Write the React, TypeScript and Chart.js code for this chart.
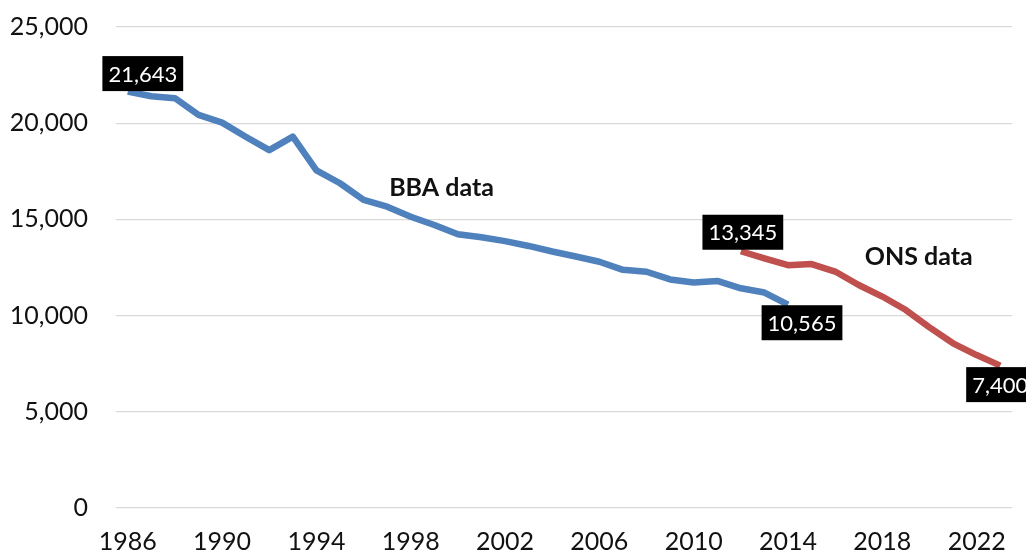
import React, { useEffect, useRef } from "react";
import { Chart, registerables } from "chart.js";

Chart.register(...registerables);

// ---- data ----
const years: string[] = [
  "1986", "1987", "1988", "1989", "1990", "1991", "1992", "1993", "1994", "1995",
  "1996", "1997", "1998", "1999", "2000", "2001", "2002", "2003", "2004", "2005",
  "2006", "2007", "2008", "2009", "2010", "2011", "2012", "2013", "2014", "2015",
  "2016", "2017", "2018", "2019", "2020", "2021", "2022", "2023",
];

const bbaValues: (number | null)[] = [
  21643, 21400, 21300, 20430, 20030, 19300, 18600, 19300, 17550, 16880,
  16010, 15660, 15140, 14710, 14230, 14070, 13870, 13620, 13330, 13070,
  12800, 12380, 12280, 11880, 11720, 11800, 11420, 11200, 10565, null,
  null, null, null, null, null, null, null, null,
];

const onsValues: (number | null)[] = [
  null, null, null, null, null, null, null, null, null, null,
  null, null, null, null, null, null, null, null, null, null,
  null, null, null, null, null, null, 13345, 12980, 12620, 12680,
  12290, 11590, 10990, 10290, 9390, 8560, 7950, 7400,
];

const yTicks: number[] = [0, 5000, 10000, 15000, 20000, 25000];
const xTickYears: string[] = ["1986", "1990", "1994", "1998", "2002", "2006", "2010", "2014", "2018", "2022"];

// value labels: dataset index, point index
const valueLabels = [
  { ds: 0, idx: 0 },
  { ds: 0, idx: 28 },
  { ds: 1, idx: 26 },
  { ds: 1, idx: 37 },
];
// style offsets for the label boxes (pixels)
const valueLabelOffsets = [
  { dx: 15, dy: -18 },
  { dx: 14, dy: 18 },
  { dx: 2, dy: -19 },
  { dx: 0, dy: 19 },
];

const seriesNotes = [
  { text: "BBA data", year: "1997", value: 16220 },
  { text: "ONS data", year: "2017", value: 12630 },
];
const seriesNoteOffsets = [{ dx: 2 }, { dx: 6 }];

const FONT = "Lato, 'Open Sans', sans-serif";

const fmt = (v: number) => v.toLocaleString("en-US");

const labelPlugin = {
  id: "valueLabels",
  afterDatasetsDraw(chart: any) {
    const ctx = chart.ctx;
    ctx.save();
    // series notes
    ctx.font = `bold 25px ${FONT}`;
    ctx.fillStyle = "#111111";
    ctx.textAlign = "left";
    ctx.textBaseline = "alphabetic";
    const xs = chart.scales.x;
    const ys = chart.scales.y;
    seriesNotes.forEach((n, i) => {
      const px = xs.getPixelForValue(years.indexOf(n.year)) + seriesNoteOffsets[i].dx;
      const py = ys.getPixelForValue(n.value);
      ctx.fillText(n.text, px, py);
    });
    // value boxes
    ctx.font = `22px ${FONT}`;
    ctx.textAlign = "center";
    ctx.textBaseline = "middle";
    valueLabels.forEach((l, i) => {
      const meta = chart.getDatasetMeta(l.ds);
      const pt = meta.data[l.idx];
      if (!pt) return;
      const v = chart.data.datasets[l.ds].data[l.idx] as number;
      const text = fmt(v);
      const w = ctx.measureText(text).width + 12;
      const h = 35;
      const cx = pt.x + valueLabelOffsets[i].dx;
      const cy = pt.y + valueLabelOffsets[i].dy;
      ctx.fillStyle = "#000000";
      ctx.fillRect(cx - w / 2, cy - h / 2, w, h);
      ctx.fillStyle = "#ffffff";
      ctx.fillText(text, cx, cy + 1);
    });
    ctx.restore();
  },
};

export default function App() {
  const ref = useRef<HTMLCanvasElement | null>(null);

  useEffect(() => {
    let chart: Chart | null = null;
    let cancelled = false;
    const make = () => {
      if (cancelled || !ref.current) return;
      chart = new Chart(ref.current, {
        type: "line",
        data: {
          labels: years,
          datasets: [
            {
              label: "BBA",
              data: bbaValues,
              borderColor: "#4F81BD",
              backgroundColor: "#4F81BD",
              borderWidth: 6.5,
              pointRadius: 0,
              tension: 0,
              borderJoinStyle: "round",
              spanGaps: false,
            },
            {
              label: "ONS",
              data: onsValues,
              borderColor: "#C0504D",
              backgroundColor: "#C0504D",
              borderWidth: 6.5,
              pointRadius: 0,
              tension: 0,
              borderJoinStyle: "round",
              spanGaps: false,
            },
          ],
        },
        options: {
          responsive: false,
          maintainAspectRatio: false,
          animation: false,
          layout: { padding: { top: 27, right: 14, left: 0, bottom: 0 } },
          plugins: { legend: { display: false }, tooltip: { enabled: false } },
          scales: {
            x: {
              type: "category",
              offset: true,
              grid: { display: false, drawTicks: false },
              border: { display: false },
              ticks: {
                autoSkip: false,
                maxRotation: 0,
                padding: 19,
                color: "#111111",
                font: { family: FONT, size: 25 },
                callback: function (this: any, value: any) {
                  const lab = this.getLabelForValue(value);
                  return xTickYears.includes(lab) ? lab : "";
                },
              },
              afterFit: (s: any) => {
                s.height = 49;
                s.paddingLeft = 0;
                s.paddingRight = 0;
              },
            },
            y: {
              min: 0,
              max: 25000,
              grid: { color: "#d9d9d9", lineWidth: 1.2, drawTicks: false },
              border: { display: false },
              afterBuildTicks: (s: any) => {
                s.ticks = yTicks.map((v) => ({ value: v }));
              },
              ticks: {
                padding: 28,
                color: "#111111",
                font: { family: FONT, size: 25 },
                callback: (v: any) => fmt(Number(v)),
              },
              afterFit: (s: any) => {
                s.width = 116;
                s.paddingTop = 0;
                s.paddingBottom = 0;
              },
            },
          },
        },
        plugins: [labelPlugin],
      });
    };
    const fonts: any = (document as any).fonts;
    if (fonts && fonts.load) {
      Promise.all([
        fonts.load(`25px Lato`),
        fonts.load(`bold 25px Lato`),
      ]).then(make, make);
    } else {
      make();
    }
    return () => {
      cancelled = true;
      if (chart) chart.destroy();
    };
  }, []);

  return (
    <div style={{ position: "absolute", left: 0, top: 0, width: 1026, height: 557, background: "#ffffff" }}>
      <canvas ref={ref} width={1026} height={557} style={{ display: "block" }} />
    </div>
  );
}
